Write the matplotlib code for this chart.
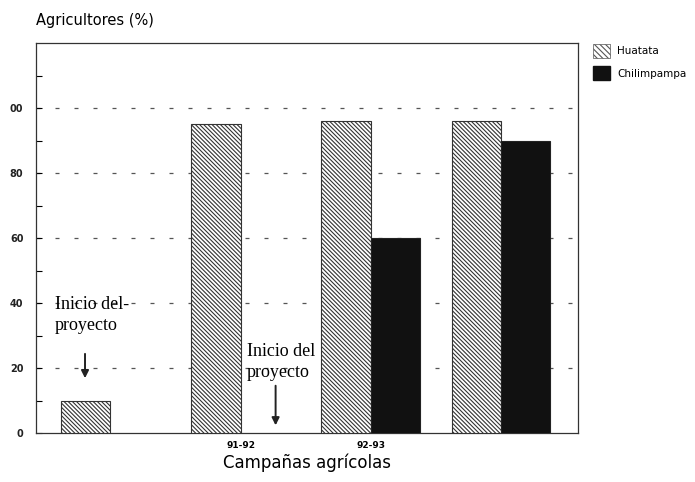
import matplotlib
matplotlib.use("Agg")
import matplotlib.pyplot as plt
import numpy as np
from matplotlib.patches import Patch

groups = ["", "91-92", "92-93", ""]
huatata = [10, 95, 96, 96]
chilimpampa = [None, None, 60, 90]
yticks = [0, 20, 40, 60, 80, 100]
ytick_labels = ["0", "20", "40", "60", "80", "00"]
series_names = ["Huatata", "Chilimpampa"]

HATCH = "\\" * 8
plt.rcParams['hatch.linewidth'] = 0.8
plt.rcParams['hatch.color'] = "#444444"
fig = plt.figure(figsize=(6.95, 4.82), dpi=100)
ax = fig.add_axes([36/695, 1-433/482, (578-36)/695, (433-43)/482])

x = np.arange(len(groups))
w = 0.377
ax.bar(x - w/2, huatata, w, color="white", edgecolor="#333333", hatch=HATCH, linewidth=0.8, zorder=3)
cx = [xi + w/2 for xi, v in zip(x, chilimpampa) if v is not None]
cv = [v for v in chilimpampa if v is not None]
ax.bar(cx, cv, w, color="#111111", edgecolor="#222222", linewidth=0.8, zorder=3)

ax.set_xlim(-0.573, 3.596)
ax.set_ylim(0, 120)
ax.set_yticks(yticks)
ax.set_yticklabels(ytick_labels, fontsize=7, fontweight="bold", color="#222222")
ax.set_yticks(np.arange(10, 120, 20), minor=True)
ax.tick_params(axis="y", which="both", direction="in", length=4, width=0.8, pad=9)
ax.set_xticks(x)
ax.set_xticklabels(groups, fontsize=6.5, fontweight="bold")
ax.tick_params(axis="x", length=0, pad=6)
for yv in yticks[1:]:
    ax.axhline(yv, color="#555555", linestyle=(0, (3.2, 12)), linewidth=0.9, zorder=1)
for s in ax.spines.values():
    s.set_linewidth(0.9)
    s.set_color("#333333")

ax.set_xlabel("Campañas agrícolas", fontsize=12, labelpad=2)
fig.text(36/695, 1-20/482, "Agricultores (%)", fontsize=10.5, va="center", ha="left")

serif = "Liberation Serif"
ax.text(-0.43, 36.3, "Inicio del-\nproyecto", fontfamily=serif, fontsize=13, va="center", ha="left", linespacing=1.3, zorder=4)
ax.annotate("", xy=(-0.196, 16), xytext=(-0.196, 25.2),
            arrowprops=dict(arrowstyle="-|>", color="#222222", lw=1.4, mutation_scale=11))
ax.text(1.05, 21.8, "Inicio del\nproyecto", fontfamily=serif, fontsize=13, va="center", ha="left", linespacing=1.3, zorder=4)
ax.annotate("", xy=(1.27, 1.5), xytext=(1.27, 15.4),
            arrowprops=dict(arrowstyle="-|>", color="#222222", lw=1.4, mutation_scale=11))

handles = [Patch(facecolor="white", edgecolor="#555555", hatch="\\" * 6, linewidth=0.5),
           Patch(facecolor="#111111", edgecolor="#111111")]
fig.legend(handles, series_names, loc="upper left", bbox_to_anchor=(589/695, 1-40/482),
           frameon=False, fontsize=7.5, handlelength=1.6, handleheight=1.6, labelspacing=0.85,
           borderaxespad=0, handletextpad=0.7)

fig.savefig("out.png", dpi=100)
